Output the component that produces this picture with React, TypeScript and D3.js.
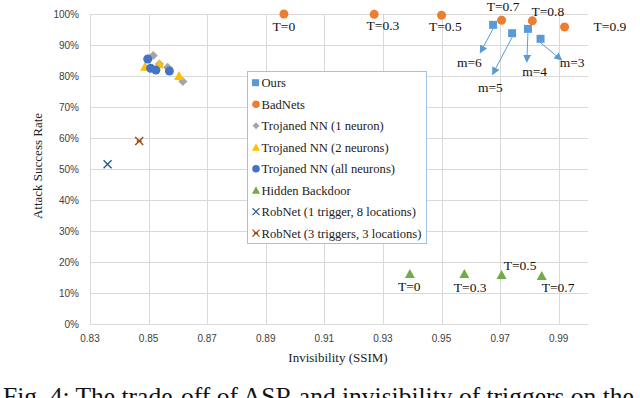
import React, { useEffect, useRef } from 'react';
import * as d3 from 'd3';

// x = SSIM, y = attack success rate (%)
const ours = [
  { x: 0.9676, y: 96.5, label: 'm=6', lx: 0.9632, ly: 87.5, tx: 0.9595, ty: 84.5 },
  { x: 0.9741, y: 93.8, label: 'm=5', lx: 0.9674, ly: 80.5, tx: 0.9667, ty: 76.5 },
  { x: 0.9795, y: 95.2, label: 'm=4', lx: 0.9791, ly: 84.5, tx: 0.9818, ty: 81.5 },
  { x: 0.9838, y: 92.0, label: 'm=3', lx: 0.9910, ly: 85.2, tx: 0.9946, ty: 84.5 },
];
const badnets = [
  { x: 0.8962, y: 100, label: 'T=0', tx: 0.8962, ty: 96.0 },
  { x: 0.9270, y: 99.9, label: 'T=0.3', tx: 0.9300, ty: 96.5 },
  { x: 0.9500, y: 99.6, label: 'T=0.5', tx: 0.9513, ty: 96.0 },
  { x: 0.9705, y: 98.0, label: 'T=0.7', tx: 0.9710, ty: 102.5 },
  { x: 0.9810, y: 97.8, label: 'T=0.8', tx: 0.9863, ty: 101.0 },
  { x: 0.9920, y: 95.8, label: 'T=0.9', tx: 1.0075, ty: 96.0 },
];
const trojan1 = [
  { x: 0.8516, y: 86.6 }, { x: 0.8537, y: 83.9 }, { x: 0.8565, y: 82.8 }, { x: 0.8617, y: 78.2 },
];
const trojan2 = [
  { x: 0.8488, y: 83.0 }, { x: 0.8537, y: 83.8 }, { x: 0.8604, y: 80.0 },
];
const trojanAll = [
  { x: 0.8497, y: 85.5 }, { x: 0.8507, y: 82.5 }, { x: 0.8525, y: 81.9 }, { x: 0.8571, y: 81.6 },
];
const hidden = [
  { x: 0.9392, y: 16.1, label: 'T=0', tx: 0.9390, ty: 12.3 },
  { x: 0.9578, y: 16.1, label: 'T=0.3', tx: 0.9598, ty: 11.8 },
  { x: 0.9705, y: 15.8, label: 'T=0.5', tx: 0.9768, ty: 19.0 },
  { x: 0.9842, y: 15.5, label: 'T=0.7', tx: 0.9898, ty: 11.8 },
];
const robnet1 = [{ x: 0.836, y: 51.5 }];
const robnet3 = [{ x: 0.8468, y: 59.0 }];

const xTicks = [0.83, 0.85, 0.87, 0.89, 0.91, 0.93, 0.95, 0.97, 0.99];
const yTicks = [0, 10, 20, 30, 40, 50, 60, 70, 80, 90, 100];

const legendItems = [
  { name: 'Ours', shape: 'square', color: '#5b9bd5' },
  { name: 'BadNets', shape: 'circle', color: '#ed7d31' },
  { name: 'Trojaned NN (1 neuron)', shape: 'diamond', color: '#a5a5a5' },
  { name: 'Trojaned NN (2 neurons)', shape: 'triangle', color: '#ffc000' },
  { name: 'Trojaned NN (all neurons)', shape: 'circle', color: '#4472c4' },
  { name: 'Hidden Backdoor', shape: 'triangle', color: '#70ad47' },
  { name: 'RobNet (1 trigger, 8 locations)', shape: 'x', color: '#255e91' },
  { name: 'RobNet (3 triggers, 3 locations)', shape: 'star', color: '#9e480e' },
];

const serif = '"Liberation Serif", "Times New Roman", serif';
const sans = '"Liberation Sans", Arial, sans-serif';

const App = () => {
  const ref = useRef<SVGSVGElement>(null);

  useEffect(() => {
    const svg = d3.select(ref.current);
    svg.selectAll('*').remove();

    const x = d3.scaleLinear().domain([0.83, 1.0]).range([90, 588]);
    const y = d3.scaleLinear().domain([0, 100]).range([324, 14]);

    const defs = svg.append('defs');
    defs.append('marker')
      .attr('id', 'arr')
      .attr('viewBox', '0 0 10 10')
      .attr('refX', 9).attr('refY', 5)
      .attr('markerWidth', 8).attr('markerHeight', 8)
      .attr('orient', 'auto')
      .append('path')
      .attr('d', 'M0,0L10,5L0,10z')
      .attr('fill', '#5b9bd5');

    // grid
    const grid = svg.append('g').attr('stroke', '#d9d9d9').attr('stroke-width', 1);
    grid.selectAll('line.h').data(yTicks).join('line')
      .attr('x1', x(0.83)).attr('x2', x(1.0))
      .attr('y1', d => Math.round(y(d)) + 0.5).attr('y2', d => Math.round(y(d)) + 0.5);
    grid.selectAll('line.v').data(xTicks).join('line').attr('class', 'v')
      .attr('y1', y(0)).attr('y2', y(100))
      .attr('x1', d => Math.round(x(d)) + 0.5).attr('x2', d => Math.round(x(d)) + 0.5);

    // tick labels
    svg.append('g').attr('font-family', sans).attr('font-size', 10).attr('fill', '#404040')
      .attr('text-anchor', 'end')
      .selectAll('text').data(yTicks).join('text')
      .attr('x', 79).attr('y', d => y(d)).attr('dy', '0.35em')
      .text(d => `${d}%`);
    svg.append('g').attr('font-family', sans).attr('font-size', 10).attr('fill', '#404040')
      .attr('text-anchor', 'middle')
      .selectAll('text').data(xTicks).join('text')
      .attr('x', d => x(d)).attr('y', 342)
      .text(d => d3.format('.2f')(d));

    svg.append('text').attr('x', 338).attr('y', 362).attr('text-anchor', 'middle')
      .attr('font-family', serif).attr('font-size', 13).attr('fill', '#222').text('Invisibility (SSIM)');
    svg.append('text').attr('transform', 'translate(42,166) rotate(-90)').attr('text-anchor', 'middle')
      .attr('font-family', serif).attr('font-size', 13).attr('fill', '#222').text('Attack Success Rate');

    const drawMarker = (g: any, shape: string, color: string, cx: number, cy: number) => {
      if (shape === 'square') {
        g.append('rect').attr('x', cx - 4).attr('y', cy - 4).attr('width', 8).attr('height', 8).attr('fill', color);
      } else if (shape === 'circle') {
        g.append('circle').attr('cx', cx).attr('cy', cy).attr('r', 4.5).attr('fill', color);
      } else if (shape === 'diamond') {
        g.append('path').attr('transform', `translate(${cx},${cy})`)
          .attr('d', 'M0,-4.5L4.5,0L0,4.5L-4.5,0Z').attr('fill', color);
      } else if (shape === 'triangle') {
        g.append('path').attr('transform', `translate(${cx},${cy})`)
          .attr('d', 'M0,-5L5,4L-5,4Z').attr('fill', color);
      } else if (shape === 'x') {
        g.append('path').attr('transform', `translate(${cx},${cy})`)
          .attr('d', 'M-4,-4L4,4M4,-4L-4,4').attr('stroke', color).attr('stroke-width', 1.4);
      } else if (shape === 'star') {
        g.append('path').attr('transform', `translate(${cx},${cy})`)
          .attr('d', 'M-4,-4L4,4M4,-4L-4,4M-2.5,0L2.5,0').attr('stroke', color).attr('stroke-width', 1.4);
      }
    };

    const marks = svg.append('g');
    robnet1.forEach(d => drawMarker(marks, 'x', '#255e91', x(d.x), y(d.y)));
    robnet3.forEach(d => drawMarker(marks, 'star', '#9e480e', x(d.x), y(d.y)));
    trojan1.forEach(d => drawMarker(marks, 'diamond', '#a5a5a5', x(d.x), y(d.y)));
    trojan2.forEach(d => drawMarker(marks, 'triangle', '#ffc000', x(d.x), y(d.y)));
    trojanAll.forEach(d => drawMarker(marks, 'circle', '#4472c4', x(d.x), y(d.y)));
    hidden.forEach(d => drawMarker(marks, 'triangle', '#70ad47', x(d.x), y(d.y)));
    badnets.forEach(d => drawMarker(marks, 'circle', '#ed7d31', x(d.x), y(d.y)));
    ours.forEach(d => drawMarker(marks, 'square', '#5b9bd5', x(d.x), y(d.y)));

    // arrows for Ours
    svg.append('g').selectAll('line').data(ours).join('line')
      .attr('x1', d => x(d.x)).attr('y1', d => y(d.y) + 4)
      .attr('x2', d => x(d.lx)).attr('y2', d => y(d.ly))
      .attr('stroke', '#5b9bd5').attr('stroke-width', 1)
      .attr('marker-end', 'url(#arr)');

    const ann = svg.append('g').attr('font-family', serif).attr('font-size', 13.5)
      .attr('text-anchor', 'middle').attr('fill', '#111');
    ann.selectAll('text.o').data(ours).join('text').attr('class', 'o')
      .attr('x', d => x(d.tx)).attr('y', d => y(d.ty)).attr('dy', '0.35em').text(d => d.label);
    ann.selectAll('text.b').data(badnets).join('text').attr('class', 'b')
      .attr('x', d => x(d.tx)).attr('y', d => y(d.ty)).attr('dy', '0.35em').text(d => d.label);
    ann.selectAll('text.h').data(hidden).join('text').attr('class', 'h')
      .attr('x', d => x(d.tx)).attr('y', d => y(d.ty)).attr('dy', '0.35em').text(d => d.label);

    // legend
    const lg = svg.append('g');
    lg.append('rect').attr('x', 247.5).attr('y', 71.5).attr('width', 179).attr('height', 172)
      .attr('fill', 'white').attr('stroke', '#9dc3e6').attr('stroke-width', 1);
    legendItems.forEach((it, i) => {
      const cy = 82.7 + i * 21.5;
      const g = lg.append('g');
      const s = it.shape;
      if (s === 'square') g.append('rect').attr('x', 252).attr('y', cy - 3.5).attr('width', 7).attr('height', 7).attr('fill', it.color);
      else if (s === 'circle') g.append('circle').attr('cx', 256).attr('cy', cy).attr('r', 3.8).attr('fill', it.color);
      else if (s === 'diamond') g.append('path').attr('d', `M256,${cy - 3.5}L259.5,${cy}L256,${cy + 3.5}L252.5,${cy}Z`).attr('fill', it.color);
      else if (s === 'triangle') g.append('path').attr('d', `M256,${cy - 4}L260,${cy + 3.5}L252,${cy + 3.5}Z`).attr('fill', it.color);
      else if (s === 'x') g.append('path').attr('d', `M252.5,${cy - 3.5}L259.5,${cy + 3.5}M259.5,${cy - 3.5}L252.5,${cy + 3.5}`).attr('stroke', it.color).attr('stroke-width', 1.2);
      else g.append('path').attr('d', `M252.5,${cy - 3.5}L259.5,${cy + 3.5}M259.5,${cy - 3.5}L252.5,${cy + 3.5}M254,${cy}L258,${cy}`).attr('stroke', it.color).attr('stroke-width', 1.2);
      lg.append('text').attr('x', 261.5).attr('y', cy).attr('dy', '0.35em')
        .attr('font-family', serif).attr('font-size', 12.6).attr('fill', '#222').text(it.name);
    });

    // caption (cut off by the picture edge, as in the source)
    svg.append('text').attr('x', 3).attr('y', 405).attr('font-family', serif).attr('font-size', 25.5)
      .attr('fill', '#111').text('Fig. 4: The trade-off of ASR and invisibility of triggers on the');
  }, []);

  return (
    <svg ref={ref} width={640} height={398}
      style={{ position: 'absolute', left: 0, top: 0, background: 'white' }} />
  );
};

export default App;
